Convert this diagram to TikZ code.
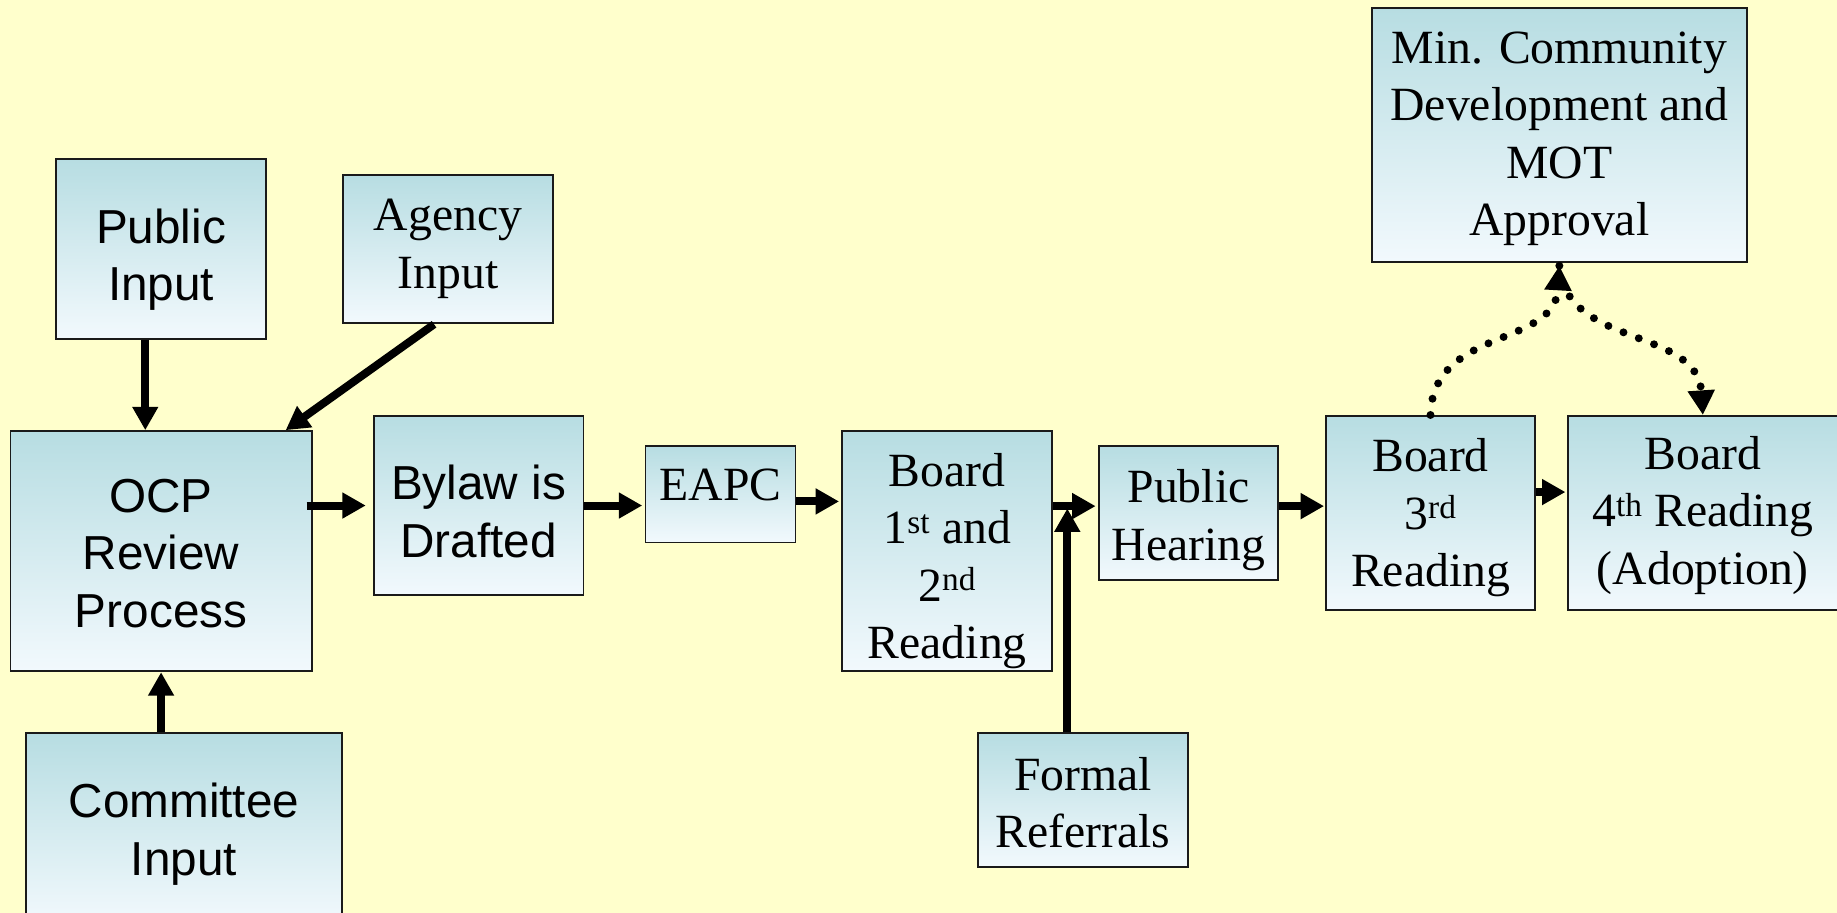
\documentclass[tikz,border=0pt]{standalone}
\usepackage{fontspec}
\setmainfont{Liberation Serif}
\newfontfamily\arialfont{Liberation Sans}
\usetikzlibrary{arrows.meta,calc}
\definecolor{paper}{HTML}{FFFFCC}
\definecolor{boxtop}{HTML}{B7DDE2}
\definecolor{boxbot}{HTML}{F2F9FD}
\definecolor{edge}{HTML}{1A1A1A}
\tikzset{
  stage/.style={draw=edge, line width=1.6pt, top color=boxtop, bottom color=boxbot, inner sep=0pt},
  caption/.style={align=center, inner sep=0pt, font=\fontsize{40.7}{49}\selectfont},
  sanscaption/.style={caption, font=\arialfont\fontsize{40.7}{49}\selectfont},
  flowarrow/.style={line width=6.8pt, -{Triangle[length=20pt,width=21pt]}},
  dotlink/.style={line width=6.8pt, line cap=round, dash pattern=on 0pt off 14pt,
    -{Triangle[length=21pt,width=22pt]}}
}
\begin{document}
\begin{tikzpicture}[x=1pt,y=-1pt]
\fill[paper] (0,0) rectangle (1568,779);
\useasboundingbox (0,0) rectangle (1568,779);
\clip (0,0) rectangle (1568,779);

% stages
\node[stage, minimum width=179pt, minimum height=153pt,
  label={[sanscaption, yshift=-9pt]center:{Public\\Input}}] (pub) at (137.5,212.5) {};
\node[stage, minimum width=179pt, minimum height=127pt,
  label={[caption]center:{Agency\\Input}}] (agency) at (382.5,212.5) {};
\node[stage, minimum width=257pt, minimum height=205pt,
  label={[sanscaption, yshift=-2pt]center:{OCP\\Review\\Process}}] (ocp) at (137.5,470.5) {};
\node[stage, minimum width=270pt, minimum height=164pt,
  label={[sanscaption, yshift=-4pt]center:{Committee\\Input}}] (com) at (157,708) {};
\node[stage, minimum width=179pt, minimum height=153pt,
  label={[sanscaption, yshift=-5pt]center:{Bylaw is\\Drafted}}] (bylaw) at (408.5,431.5) {};
\node[stage, minimum width=128pt, minimum height=82pt,
  label={[caption, yshift=8pt]center:EAPC}] (eapc) at (615,422) {};
\node[stage, minimum width=179pt, minimum height=205pt,
  label={[caption, yshift=-8.5pt]center:{Board\\1\textsuperscript{st} and\\2\textsuperscript{nd}\\Reading}}] (b12) at (808.5,470.5) {};
\node[stage, minimum width=153pt, minimum height=114pt,
  label={[caption, yshift=-6pt]center:{Public\\Hearing}}] (ph) at (1014.5,438) {};
\node[stage, minimum width=179pt, minimum height=114pt,
  label={[caption, yshift=-2pt]center:{Formal\\Referrals}}] (formal) at (924.5,683) {};
\node[stage, minimum width=178pt, minimum height=166pt,
  label={[caption, yshift=-4pt]center:{Board\\3\textsuperscript{rd}\\Reading}}] (b3) at (1221,438) {};
\node[stage, minimum width=231pt, minimum height=166pt,
  label={[caption, yshift=-2pt]center:{Board\\4\textsuperscript{th} Reading\\(Adoption)}}] (b4) at (1453.5,438) {};
\node[stage, minimum width=320pt, minimum height=217pt,
  label={[caption, yshift=-3pt]center:{Min. Community\\Development and\\MOT\\Approval}}] (min) at (1331,115.5) {};

% inputs to the review
\draw[flowarrow] ($(pub.south)+(-13.5,0)$) -- ($(ocp.north)+(-13.5,0)$);
\draw[flowarrow] ($(agency.south)+(-12,0)$) -- ($(ocp.north east)+(-23,0)$);
\draw[flowarrow] (com.north -| ocp.south) -- (ocp.south);

% main sequence
\draw[flowarrow] ($(ocp.east |- bylaw.west)+(-5,0)$) -- ($(bylaw.west)+(-6,0)$);
\draw[flowarrow] (bylaw.east) -- ($(bylaw.east -| eapc.west)+(-2,0)$);
\draw[flowarrow] ($(eapc.east)+(0,6)$) -- ($(eapc.east -| b12.west)+(-2,6)$);
\draw[flowarrow] ($(ph.west -| b12.east)+(0,-6)$) -- ($(ph.west)+(-2,-6)$);
\draw[flowarrow] ($(formal.north)+(-13.5,0)$) -- ($(formal.north |- ph.west)+(-13.5,-4)$);
\draw[flowarrow] ($(ph.east)+(0,-6)$) -- ($(ph.east -| b3.west)+(-1,-6)$);
\draw[flowarrow] ($(b3.east)+(0,-18)$) -- ($(b4.west)+(-1,-18)$);

% provincial approval loop
\draw[dotlink] (b3.north) .. controls +(2,-75) and +(-4,70) .. ($(min.south)+(0,2)$);
\draw[dotlink] ($(min.south)+(0,2)$) .. controls +(5,70) and +(-5,-75) .. (b4.north);
\end{tikzpicture}
\end{document}
